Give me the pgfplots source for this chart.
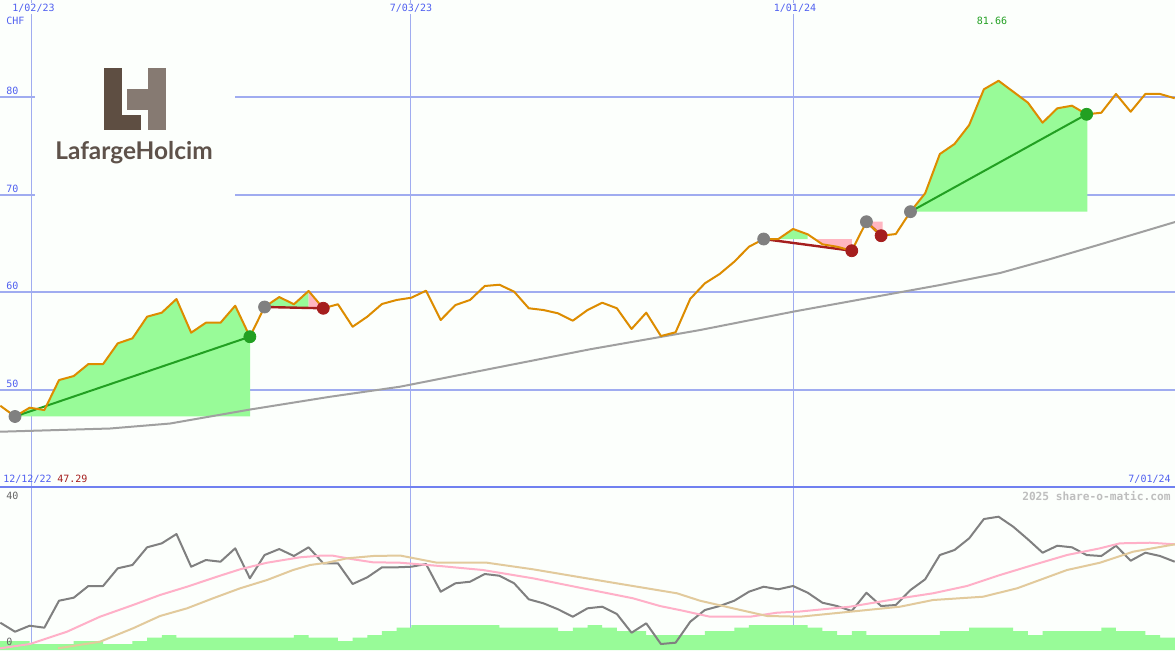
\documentclass[border=0pt]{standalone}
\usepackage{pgfplots}
\pgfplotsset{compat=1.18}
\usepackage{fontspec}
\setmainfont{DejaVu Sans Mono}
\newfontfamily\logofont{Lato}
\definecolor{bg}{RGB}{252,255,252}
\definecolor{gridblue}{RGB}{160,172,240}
\definecolor{sepblue}{RGB}{112,128,240}
\definecolor{lblblue}{RGB}{80,96,240}
\definecolor{priceor}{RGB}{221,140,0}
\definecolor{magrey}{RGB}{160,160,160}
\definecolor{fillgreen}{RGB}{152,251,152}
\definecolor{tradegreen}{RGB}{34,160,34}
\definecolor{tradered}{RGB}{165,30,30}
\definecolor{dotgrey}{RGB}{128,128,128}
\definecolor{fillpink}{RGB}{255,182,193}
\definecolor{indgrey}{RGB}{128,128,128}
\definecolor{indpink}{RGB}{255,176,200}
\definecolor{indtan}{RGB}{226,202,156}
\definecolor{logodark}{RGB}{94,78,66}
\definecolor{logolight}{RGB}{134,122,114}
\definecolor{logotext}{RGB}{94,82,74}
\definecolor{wmgrey}{RGB}{190,190,190}
\definecolor{lblgrey}{RGB}{100,100,100}
\begin{document}
\begin{tikzpicture}[x=0.5pt,y=-0.5pt]
\useasboundingbox (0,0) rectangle (1175,650);
\fill[bg] (0,0) rectangle (1175,650);
% ---------------- price panel ----------------
\begin{axis}[at={(0pt,0pt)},anchor=north west,scale only axis,
  width=587.5pt,height=243.5pt,
  xmin=-1.0218,xmax=79.02,ymin=40.07,ymax=89.93,
  axis line style={draw=none},tick style={draw=none},
  xtick={1.09,26.97,53.0},ytick={50,60,70,80},
  xticklabels={},yticklabels={},
  xmajorgrids,ymajorgrids,
  x grid style={gridblue,line width=0.5pt},
  y grid style={gridblue,line width=1pt},
  every axis plot/.append style={line join=round}]
% trade fills
\addplot[fill=fillgreen,draw=none] coordinates {(0,47.29)(1,48.19)(2,47.95)(3,51.02)(4,51.43)(5,52.66)(6,52.66)(7,54.78)(8,55.29)(9,57.51)(10,57.92)(11,59.32)(12,55.87)(13,56.89)(14,56.89)(15,58.63)(16,55.46)(16.02,55.5)(16.02,47.29)} --cycle;
\addplot[fill=fillgreen,draw=none] coordinates {(17,58.50)(18,59.52)(19,58.78)(20,60.14)(20,58.50)} --cycle;
\addplot[fill=fillpink,draw=none] coordinates {(20,60.14)(20.93,58.50)(20,58.50)} --cycle;
\addplot[fill=fillgreen,draw=none] coordinates {(52,65.46)(53,66.49)(54,65.94)(54,65.46)} --cycle;
\addplot[fill=fillpink,draw=none] coordinates {(54,65.46)(57,65.46)(57,64.26)(56,64.67)(55,64.92)(54.47,65.46)} --cycle;
\addplot[fill=fillpink,draw=none] coordinates {(58,67.23)(59.1,67.23)(59.1,65.81)(59,65.80)} --cycle;
\addplot[fill=fillgreen,draw=none] coordinates {(61,68.26)(62,70.14)(63,74.16)(64,75.19)(65,77.13)(66,80.79)(67,81.66)(68,80.54)(69,79.42)(70,77.37)(71,78.84)(72,79.11)(73,78.23)(73.05,78.24)(73.05,68.26)} --cycle;
% moving average
\addplot[magrey,line width=1pt] coordinates {(-1.02,45.73)(6.47,46.06)(10.56,46.57)(16.0,48.00)(21.46,49.31)(26.23,50.34)(33.04,52.36)(39.17,54.17)(46.66,56.14)(53.0,58.02)(63.01,60.75)(67.1,61.98)(70.5,63.4)(73.9,64.9)(79.02,67.20)};
% trade lines
\addplot[tradegreen,line width=1pt] coordinates {(0,47.29)(16,55.46)};
\addplot[tradegreen,line width=1pt] coordinates {(61,68.26)(73,78.23)};
\addplot[tradered,line width=1.2pt] coordinates {(17,58.50)(21,58.37)};
\addplot[tradered,line width=1.2pt] coordinates {(51,65.46)(57,64.26)};
\addplot[tradered,line width=1.2pt] coordinates {(58,67.23)(59,65.80)};
% dots
\addplot[only marks,mark=*,mark size=3pt,dotgrey,mark options={draw=dotgrey,fill=dotgrey}] coordinates {(0,47.29)(17,58.50)(51,65.46)(58,67.23)(61,68.26)};
\addplot[only marks,mark=*,mark size=3pt,tradegreen,mark options={draw=tradegreen,fill=tradegreen}] coordinates {(16,55.46)(73,78.23)};
\addplot[only marks,mark=*,mark size=3pt,tradered,mark options={draw=tradered,fill=tradered}] coordinates {(21,58.37)(57,64.26)(59,65.80)};
% price
\addplot[priceor,line width=1pt] coordinates {(-1,48.39)(0,47.29)(1,48.19)(2,47.95)(3,51.02)(4,51.43)(5,52.66)(6,52.66)(7,54.78)(8,55.29)(9,57.51)(10,57.92)(11,59.32)(12,55.87)(13,56.89)(14,56.89)(15,58.63)(16,55.46)(17,58.50)(18,59.52)(19,58.78)(20,60.14)(21,58.37)(22,58.78)(23,56.48)(24,57.51)(25,58.81)(26,59.22)(27,59.45)(28,60.17)(29,57.17)(30,58.70)(31,59.22)(32,60.65)(33,60.78)(34,60.07)(35,58.37)(36,58.19)(37,57.85)(38,57.10)(39,58.19)(40,58.94)(41,58.37)(42,56.25)(43,57.92)(44,55.53)(45,55.91)(46,59.34)(47,60.93)(48,61.88)(49,63.14)(50,64.67)(51,65.46)(52,65.46)(53,66.49)(54,65.94)(55,64.92)(56,64.67)(57,64.26)(58,67.23)(59,65.80)(60,65.97)(61,68.26)(62,70.14)(63,74.16)(64,75.19)(65,77.13)(66,80.79)(67,81.66)(68,80.54)(69,79.42)(70,77.37)(71,78.84)(72,79.11)(73,78.23)(74,78.39)(75,80.31)(76,78.49)(77,80.31)(78,80.31)(79,79.87)};
\end{axis}
% ---------------- indicator panel ----------------
\begin{axis}[at={(0pt,-243.5pt)},anchor=north west,scale only axis,
  width=587.5pt,height=81.5pt,
  xmin=-1.0218,xmax=79.02,ymin=0,ymax=43.47,
  axis line style={draw=none},tick style={draw=none},
  xtick={1.09,26.97,53.0},ytick=\empty,
  xticklabels={},
  xmajorgrids,
  x grid style={gridblue,line width=0.5pt},
  every axis plot/.append style={line join=round}]
\addplot[const plot,fill=fillgreen,draw=none] coordinates {(-1.1,2.4)(1,1.6)(4,2.4)(6,1.6)(8,2.4)(9,3.28)(10,4.0)(11,3.28)(19,4.0)(20,3.28)(22,2.4)(23,3.28)(24,4.0)(25,5.07)(26,5.95)(27,6.67)(33,5.95)(37,5.07)(38,5.95)(39,6.67)(40,5.95)(41,5.07)(43,4.0)(47,5.07)(49,5.95)(50,6.67)(54,5.95)(55,5.07)(56,4.0)(57,5.07)(58,4.0)(63,5.07)(65,5.95)(68,5.07)(69,4.0)(70,5.07)(74,5.95)(75,5.07)(77,4.0)(78,3.28)(79.1,3.28)} \closedcycle;
\addplot[indgrey,line width=1pt] coordinates {(-1,7.28)(0,4.88)(1,6.48)(2,5.95)(3,13.15)(4,13.95)(5,17.07)(6,17.07)(7,21.79)(8,22.67)(9,27.39)(10,28.45)(11,30.93)(12,22.21)(13,24.0)(14,23.55)(15,27.12)(16,19.12)(17,25.33)(18,26.93)(19,25.07)(20,27.39)(21,23.12)(22,23.12)(23,17.6)(24,19.39)(25,22.05)(26,22.05)(27,22.21)(28,22.93)(29,15.55)(30,17.79)(31,18.21)(32,20.27)(33,19.81)(34,17.79)(35,13.52)(36,12.45)(37,10.85)(38,8.88)(39,11.12)(40,11.55)(41,9.6)(42,4.61)(43,7.12)(44,1.6)(45,1.95)(46,7.55)(47,10.67)(48,11.73)(49,13.15)(50,15.55)(51,16.88)(52,16.19)(53,17.07)(54,15.28)(55,12.61)(56,11.73)(57,10.4)(58,15.28)(59,11.73)(60,12.0)(61,16.0)(62,18.85)(63,25.33)(64,26.67)(65,29.79)(66,34.93)(67,35.55)(68,32.88)(69,29.52)(70,25.95)(71,27.81)(72,27.39)(73,25.33)(74,25.07)(75,27.81)(76,23.81)(77,25.95)(78,25.07)(79,23.55)};
\addplot[indpink,line width=1pt] coordinates {(-1.02,0.45)(1.02,1.6)(3.54,4.88)(5.79,8.88)(8.04,12.0)(9.88,14.67)(11.72,16.88)(13.76,19.55)(15.33,21.52)(17.17,23.28)(19.41,24.72)(20.78,25.15)(21.66,25.15)(23.02,24.19)(24.39,23.39)(26.23,23.28)(28.95,22.4)(31.88,21.33)(35.29,19.12)(38.69,16.45)(42.1,13.79)(43.94,11.73)(45.5,10.48)(47.34,8.88)(50.07,8.88)(51.91,9.95)(53.47,10.27)(56.88,11.55)(60.29,13.79)(62.53,15.12)(64.85,17.07)(67.1,20.0)(69.35,22.67)(71.66,25.33)(73.91,27.12)(75.27,28.45)(77.32,28.61)(79.02,28.19)};
\addplot[indtan,line width=1pt] coordinates {(2.93,0.45)(5.79,2.21)(8.04,5.79)(9.88,9.07)(11.72,11.12)(13.49,13.79)(15.33,16.45)(17.17,18.67)(18.94,21.33)(20.1,22.67)(21.25,23.28)(22.62,24.45)(24.39,25.07)(26.23,25.2)(28.75,23.28)(32.15,23.28)(35.29,21.52)(38.01,19.73)(41.69,17.33)(45.1,15.12)(46.66,13.15)(48.91,11.12)(51.23,9.07)(53.47,8.88)(56.88,10.21)(60.29,11.55)(62.53,13.33)(65.94,14.21)(68.26,16.45)(71.66,21.33)(73.91,23.28)(76.16,26.21)(79.02,28.19)};
\end{axis}
% separator
\draw[sepblue,line width=1pt] (0,486.7) -- (1175,486.7);
% logo
\fill[bg] (35,42) rectangle (235,200);
\fill[logodark] (104,68) rectangle (122,130);
\fill[logodark] (104,115) rectangle (141,130);
\fill[logolight] (127,89) rectangle (148,110);
\fill[logolight] (148,68) rectangle (166,130);
\node[anchor=base west,inner sep=0pt,text=logotext,font=\logofont\bfseries\fontsize{12.2pt}{14pt}\selectfont] at (55,159) {LafargeHolcim};
% labels
\begin{scope}[font=\fontsize{5pt}{6pt}\selectfont,inner sep=0.5pt]
\node[text=lblblue,fill=bg] at (33.5,8.5) {1/02/23};
\node[text=lblblue,fill=bg] at (411,8.5) {7/03/23};
\node[text=lblblue,fill=bg] at (795,8.5) {1/01/24};
\node[text=lblblue,anchor=west] at (5,21) {CHF};
\node[text=lblblue,anchor=west] at (5,91) {80};
\node[text=lblblue,anchor=west] at (5,189) {70};
\node[text=lblblue,anchor=west] at (5,286) {60};
\node[text=lblblue,anchor=west] at (5,384) {50};
\node[text=tradegreen] at (992,21) {81.66};
\node[text=lblblue,anchor=west] at (2,479) {12/12/22};
\node[text=tradered,anchor=west] at (56,479) {47.29};
\node[text=lblblue,anchor=east] at (1172,479) {7/01/24};
\node[text=lblgrey,anchor=west] at (5,496) {40};
\node[text=lblgrey,anchor=west] at (5,642) {0};
\node[text=wmgrey,anchor=east,font=\bfseries\fontsize{5.6pt}{6pt}\selectfont] at (1172,496) {2025 share-o-matic.com};
\end{scope}
\end{tikzpicture}
\end{document}
